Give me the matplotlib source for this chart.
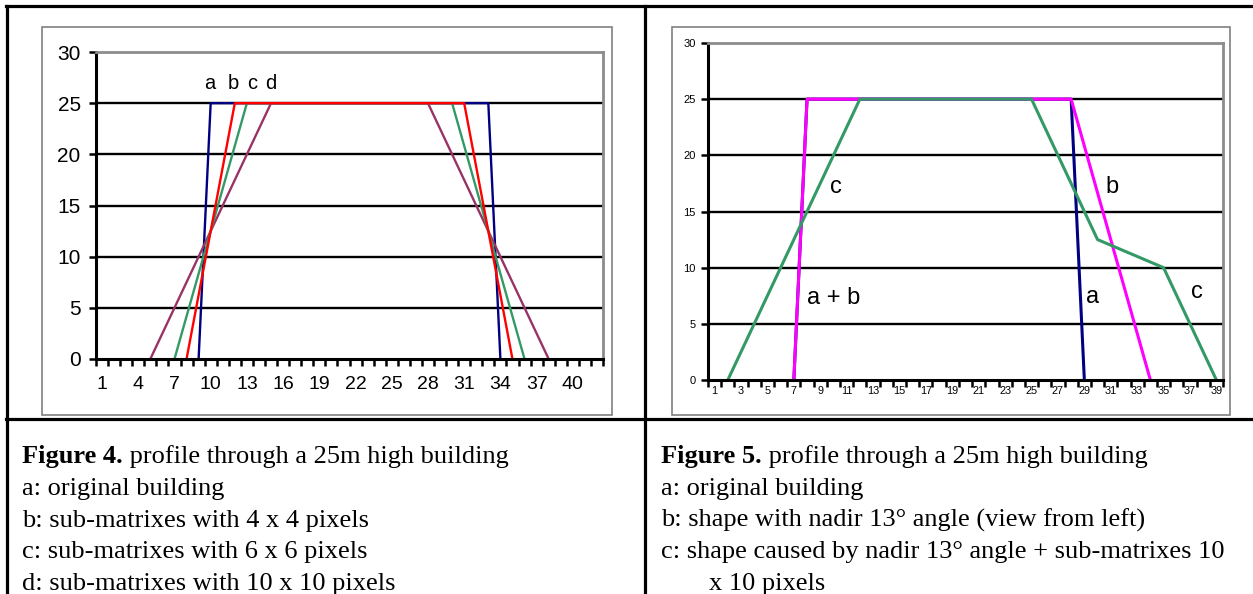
import matplotlib
matplotlib.use("Agg")
import matplotlib.pyplot as plt
from matplotlib.patches import Rectangle

plt.rcParams['font.family'] = ['Liberation Sans', 'DejaVu Sans']

W, H = 1253, 594

# Figure 4: profile through a 25m high building (category index, height in m)
fig4_categories = list(range(1, 43))
fig4_a_x = [9, 10, 33, 34]
fig4_a_y = [0, 25, 25, 0]
fig4_b_x = [8, 12, 31, 35]
fig4_b_y = [0, 25, 25, 0]
fig4_c_x = [7, 13, 30, 36]
fig4_c_y = [0, 25, 25, 0]
fig4_d_x = [5, 15, 28, 38]
fig4_d_y = [0, 25, 25, 0]
fig4_labels = ['a', 'b', 'c', 'd']
fig4_label_x = [9.9, 11.9, 13.4, 15.0]
fig4_label_y = [26.9, 26.9, 26.9, 26.9]

# Figure 5: shape with nadir angle
fig5_categories = list(range(1, 40))
fig5_a_x = [7, 8, 28, 29]
fig5_a_y = [0, 25, 25, 0]
fig5_b_x = [7, 8, 28, 34]
fig5_b_y = [0, 25, 25, 0]
fig5_c_x = [2, 12, 25, 30, 35, 39]
fig5_c_y = [0, 25, 25, 12.5, 10, 0]
fig5_labels = ['c', 'b', 'a + b', 'a', 'c']
fig5_label_x = [10.2, 31.1, 10.0, 29.6, 37.5]
fig5_label_y = [17.2, 17.2, 7.3, 7.4, 7.8]

y_ticks = [0, 5, 10, 15, 20, 25, 30]

caption_left = [("Figure 4.", " profile through a 25m high building"),
                ("", "a: original building"),
                ("", "b: sub-matrixes with 4 x 4 pixels"),
                ("", "c: sub-matrixes with 6 x 6 pixels"),
                ("", "d: sub-matrixes with 10 x 10 pixels")]
caption_right = [("Figure 5.", " profile through a 25m high building"),
                 ("", "a: original building"),
                 ("", "b: shape with nadir 13\u00b0 angle (view from left)"),
                 ("", "c: shape caused by nadir 13\u00b0 angle + sub-matrixes 10"),
                 ("", "x 10 pixels")]


def px_rect(l, t, r, b):
    return [l / W, 1 - b / H, (r - l) / W, (b - t) / H]


def style_axes(ax, ncat, step, ylab_size, xlab_size, ypad, xpad):
    ax.set_xlim(0.5, ncat + 0.5)
    ax.set_ylim(0, 30)
    for s in ['left', 'bottom']:
        ax.spines[s].set_color('black')
        ax.spines[s].set_linewidth(2.2)
    for s in ['top', 'right']:
        ax.spines[s].set_color('#8c8c8c')
        ax.spines[s].set_linewidth(2.0)
    ax.set_yticks(y_ticks)
    ax.tick_params(axis='y', direction='out', length=5, width=1.8,
                   labelsize=ylab_size, pad=ypad)
    cats = list(range(1, ncat + 1))
    ax.set_xticks(cats)
    ax.set_xticklabels([str(c) if (c - 1) % step == 0 else '' for c in cats])
    ax.set_xticks([c - 0.5 for c in cats] + [ncat + 0.5], minor=True)
    ax.tick_params(axis='x', which='major', length=0, labelsize=xlab_size, pad=xpad)
    ax.tick_params(axis='x', which='minor', direction='out', length=5, width=1.8)
    ax.hlines(y_ticks[1:-1], 0.5, ncat + 0.5, color='black', lw=1.7, zorder=1)


fig = plt.figure(figsize=(W / 100, H / 100), dpi=100)

# background layer in pixel coordinates (table and chart frames)
bg = fig.add_axes([0, 0, 1, 1])
bg.set_xlim(0, W)
bg.set_ylim(H, 0)
bg.axis('off')
bg.plot([6, W], [6, 6], color='black', lw=2.3)
bg.plot([7, 7], [6, H], color='black', lw=2.3)
bg.plot([645, 645], [6, H], color='black', lw=2.3)
bg.plot([6, W], [419, 419], color='black', lw=2.3)
bg.add_patch(Rectangle((42, 27), 570, 388, fill=False, edgecolor='#808080', lw=1.2))
bg.add_patch(Rectangle((672, 27), 558, 388, fill=False, edgecolor='#808080', lw=1.2))

# --- Figure 4 chart
ax1 = fig.add_axes(px_rect(96, 52, 603, 359))
style_axes(ax1, len(fig4_categories), 3, 15, 14, 6, 12)
ax1.plot(fig4_a_x, fig4_a_y, color='#000080', lw=1.7)
ax1.plot(fig4_d_x, fig4_d_y, color='#993366', lw=1.7)
ax1.plot(fig4_c_x, fig4_c_y, color='#339966', lw=1.7)
ax1.plot(fig4_b_x, fig4_b_y, color='#ff0000', lw=1.7)
for t, x, y in zip(fig4_labels, fig4_label_x, fig4_label_y):
    ax1.text(x, y, t, fontsize=14.5, ha='center', va='center')

# --- Figure 5 chart
ax2 = fig.add_axes(px_rect(708, 43, 1223, 380))
style_axes(ax2, len(fig5_categories), 2, 8, 7.8, 4, 4)
ax2.plot(fig5_a_x, fig5_a_y, color='#000080', lw=2.2)
ax2.plot(fig5_b_x, fig5_b_y, color='#ff00ff', lw=2.2)
ax2.plot(fig5_c_x, fig5_c_y, color='#339966', lw=2.2)
for t, x, y in zip(fig5_labels, fig5_label_x, fig5_label_y):
    ax2.text(x, y, t, fontsize=17, ha='center', va='center')

# --- captions
baselines = [463, 495, 527, 558, 590]
renderer = fig.canvas.get_renderer()
cap_size = 19
for caps, x0 in [(caption_left, 22), (caption_right, 661)]:
    for (bold, normal), yb in zip(caps, baselines):
        x = x0
        if normal == "x 10 pixels":
            x = 709
        if bold:
            tb = bg.text(x, yb, bold, fontsize=cap_size, fontweight='bold',
                         family='Liberation Serif', va='baseline', ha='left')
            x = tb.get_window_extent(renderer).x1
        bg.text(x, yb, normal, fontsize=cap_size, family='Liberation Serif',
                va='baseline', ha='left')

fig.savefig('out.png', dpi=100, facecolor='white')
